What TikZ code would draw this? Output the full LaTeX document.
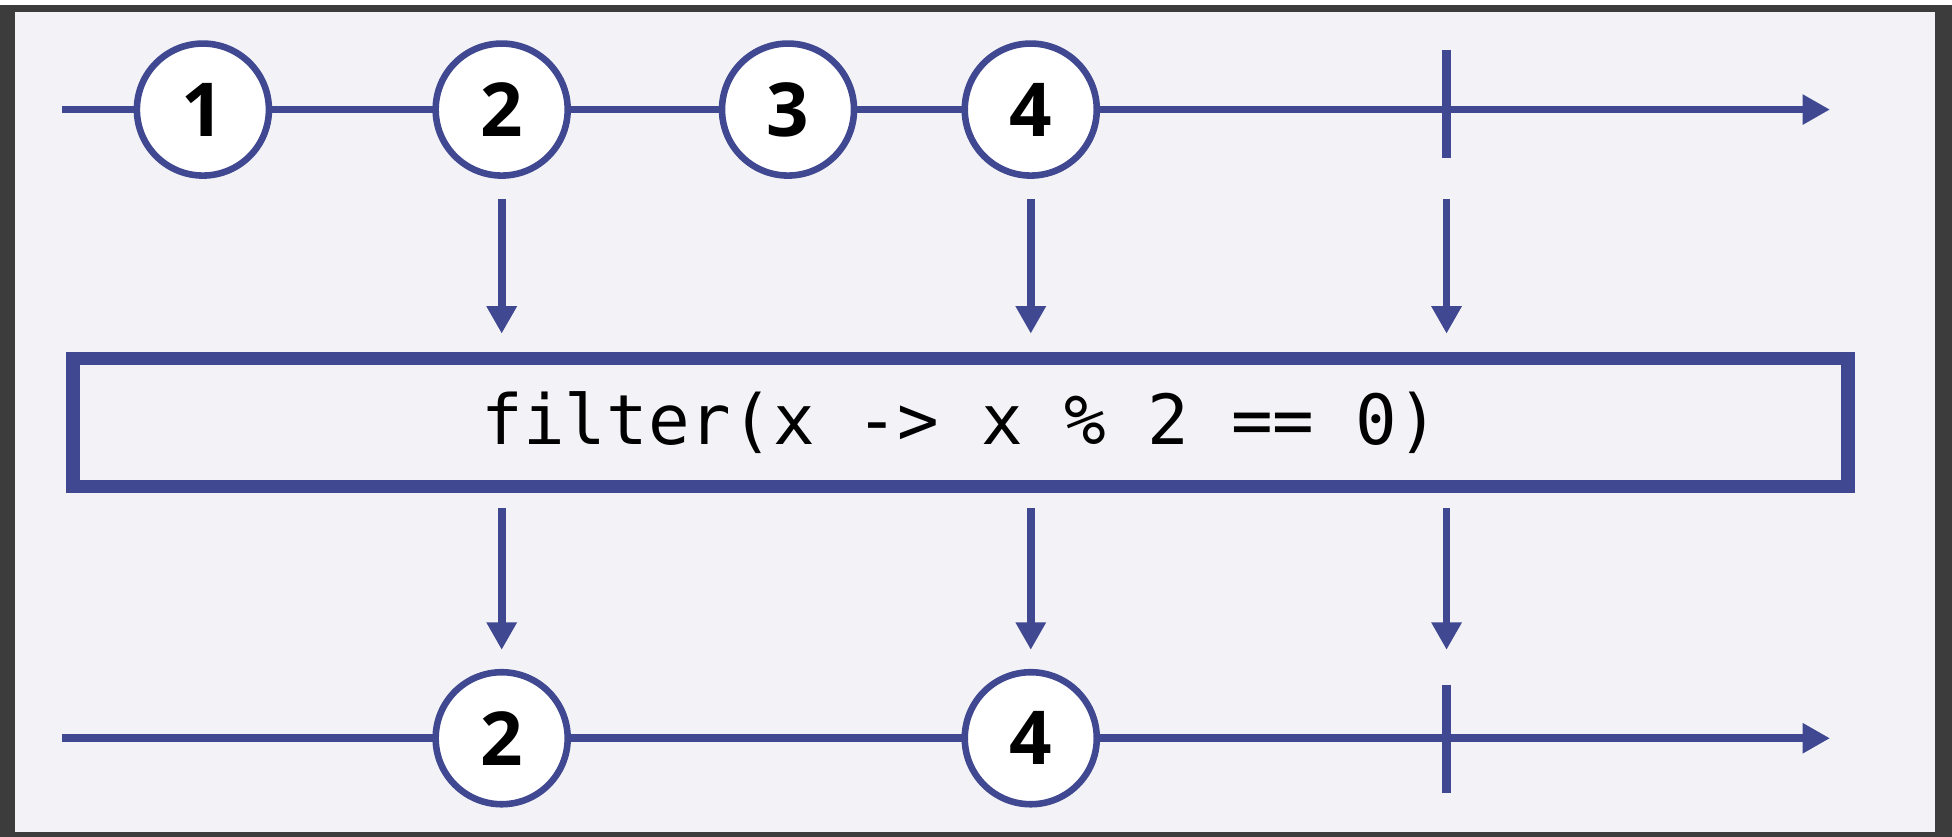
\documentclass[tikz,border=0pt]{standalone}
\usepackage{fontspec}
\usetikzlibrary{arrows.meta}
\newfontfamily\digitfont{Open Sans}
\newfontfamily\codefont{DejaVu Sans Mono}
\definecolor{rxblue}{HTML}{3F4890}
\definecolor{framegray}{HTML}{3C3C3C}
\definecolor{paper}{HTML}{F3F3F7}
\tikzset{
  marble/.style={circle, draw=rxblue, line width=1.5pt, fill=white, minimum size=1.06cm, inner sep=0pt,
    font=\digitfont\bfseries\fontsize{17}{20}\selectfont},
  flowarrow/.style={draw=rxblue, line width=1.75pt, -{Triangle[length=0.22cm,width=0.23cm]}},
  completion/.style={draw=rxblue, line width=2.1pt},
  opbox/.style={draw=rxblue, line width=3pt, rectangle, minimum width=14.25cm, minimum height=1.03cm,
    font=\codefont\fontsize{15.8}{18}\selectfont},
}
\begin{document}
\begin{tikzpicture}[x=0.01cm,y=-0.01cm]
\useasboundingbox (0,0) rectangle (1568,672);
\fill[white] (0,0) rectangle (1568,672);
\fill[framegray] (0,4) rectangle (1568,672);
\fill[paper] (12,10) rectangle (1554,668);
% top timeline
\coordinate (tstart) at (50,88);
\coordinate (tend) at (1470,88);
\draw[flowarrow] (tstart) -- (tend);
\coordinate (ttickA) at (1162,40);
\coordinate (ttickB) at (1162,127);
\draw[completion] (ttickA) -- (ttickB);
\node[marble] (t1) at (163,88) {1};
\node[marble] (t2) at (403,88) {2};
\node[marble] (t3) at (633,88) {3};
\node[marble] (t4) at (828,88) {4};
% operator box
\node[opbox] (box) at (771.5,339.5) {filter(x -> x \% 2 == 0)};
% bottom timeline
\coordinate (bstart) at (50,593);
\coordinate (bend) at (1470,593);
\draw[flowarrow] (bstart) -- (bend);
\coordinate (btickA) at (1162,550);
\coordinate (btickB) at (1162,637);
\draw[completion] (btickA) -- (btickB);
\node[marble] (b2) at (403,593) {2};
\node[marble] (b4) at (828,593) {4};
% arrows into box
\coordinate (a2s) at (403,160); \coordinate (a2e) at (403,268);
\coordinate (a4s) at (828,160); \coordinate (a4e) at (828,268);
\coordinate (acs) at (1162,160); \coordinate (ace) at (1162,268);
\draw[flowarrow] (a2s) -- (a2e);
\draw[flowarrow] (a4s) -- (a4e);
\draw[flowarrow] (acs) -- (ace);
% arrows out of box
\coordinate (o2s) at (403,408); \coordinate (o2e) at (403,522);
\coordinate (o4s) at (828,408); \coordinate (o4e) at (828,522);
\coordinate (ocs) at (1162,408); \coordinate (oce) at (1162,522);
\draw[flowarrow] (o2s) -- (o2e);
\draw[flowarrow] (o4s) -- (o4e);
\draw[flowarrow] (ocs) -- (oce);
\end{tikzpicture}
\end{document}
